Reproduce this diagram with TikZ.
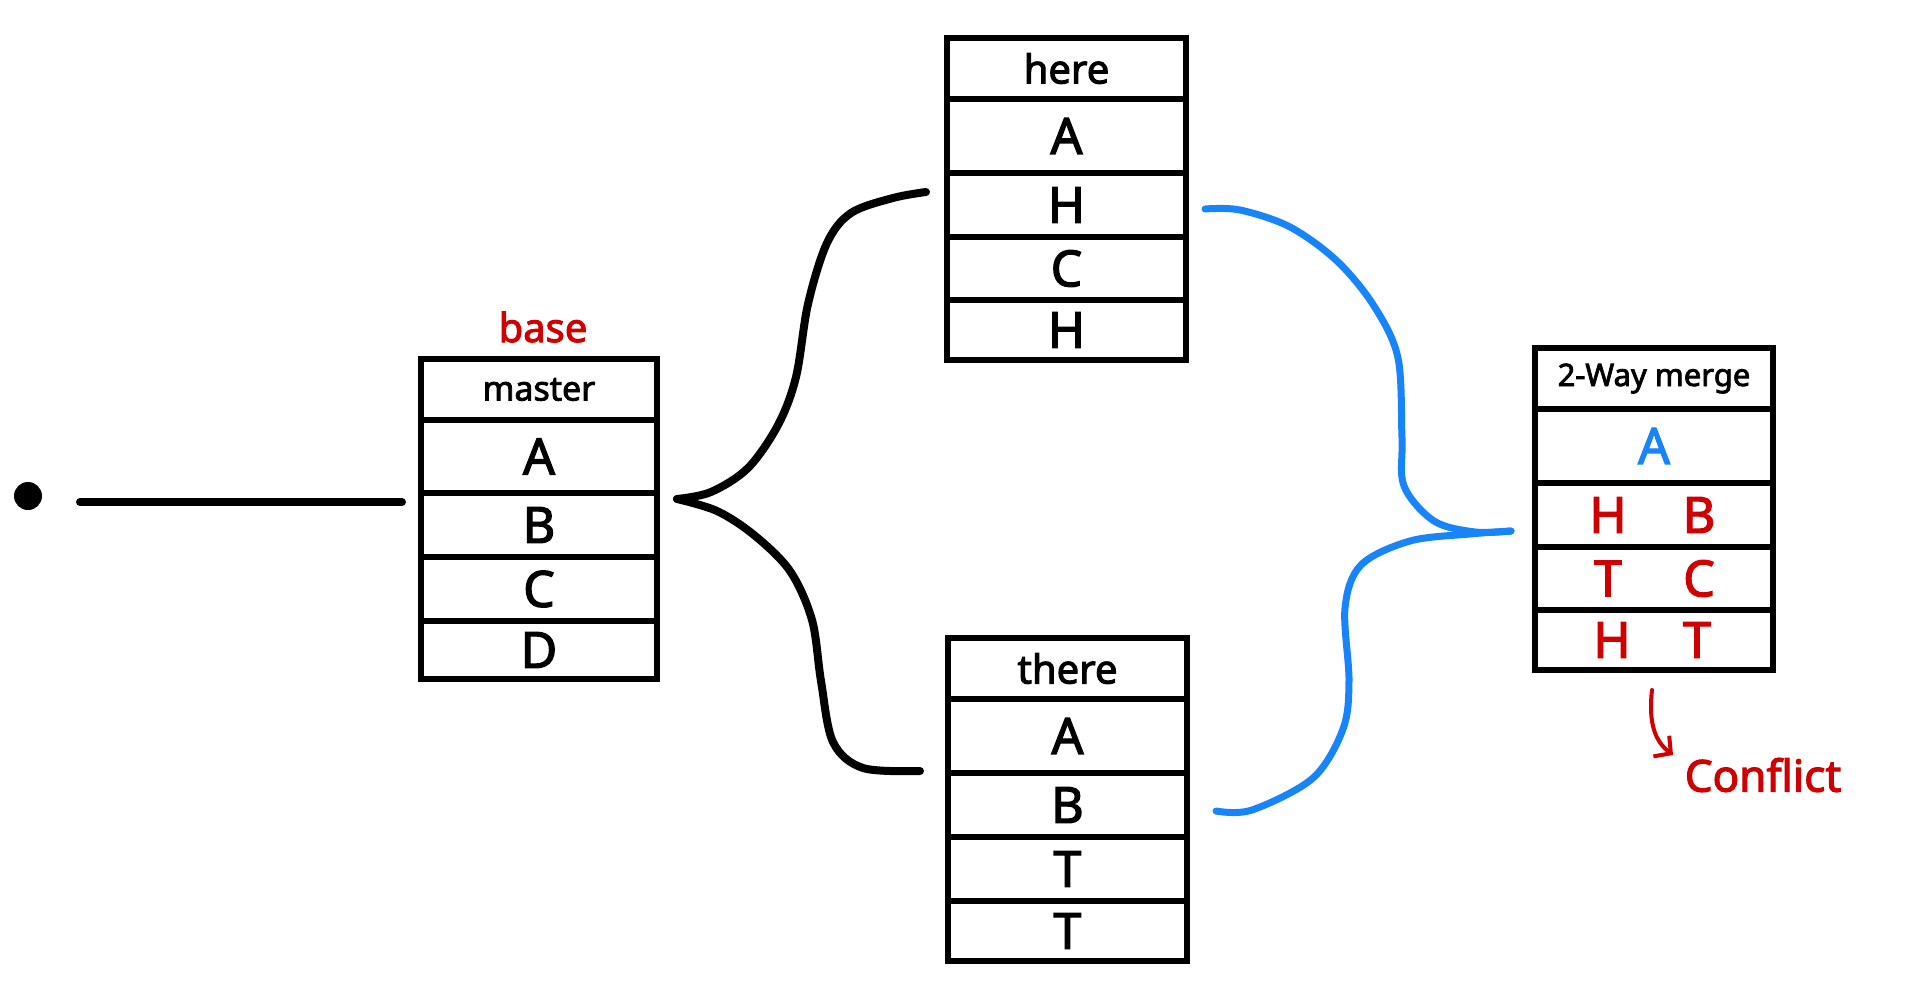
\documentclass[tikz,border=0pt]{standalone}
\usepackage{fontspec}
\setmainfont{Noto Sans}[AutoFakeBold=2.5]
\usetikzlibrary{arrows.meta,calc}
\definecolor{hred}{RGB}{208,0,0}
\definecolor{hblue}{RGB}{24,132,250}
\begin{document}
\begin{tikzpicture}[x=1pt,y=-1pt,
  cellbox/.style={draw=black, line width=5.5pt, rectangle, inner sep=0pt, outer sep=0pt, font=\fontsize{50}{50}\selectfont\bfseries},
  hdr/.style={cellbox, font=\fontsize{40}{40}\selectfont\bfseries},
  conn/.style={line width=8pt, line cap=round, line join=round},
  bconn/.style={conn, draw=hblue, line width=7pt},
  lett/.style={inner sep=0pt, font=\fontsize{50}{50}\selectfont\bfseries}]
\useasboundingbox[fill=white] (0,0) rectangle (1906,1000);

% master box
\node[hdr, minimum width=236, minimum height=61, font=\fontsize{34}{34}\selectfont\bfseries] (m0) at (539,389.5) {master};
\node[cellbox, minimum width=236, minimum height=73] (m1) at (539,456.5) {A};
\node[cellbox, minimum width=236, minimum height=64] (m2) at (539,525) {B};
\node[cellbox, minimum width=236, minimum height=64] (m3) at (539,589) {C};
\node[cellbox, minimum width=236, minimum height=58] (m4) at (539,650) {D};
\node[text=hred, font=\fontsize{40}{40}\selectfont\bfseries, inner sep=0pt] (base) at (543,327) {base};

% here box
\node[hdr, minimum width=239, minimum height=61, font=\fontsize{40}{40}\selectfont\bfseries] (h0) at (1066.5,68.5) {here};
\node[cellbox, minimum width=239, minimum height=74] (h1) at (1066.5,136) {A};
\node[cellbox, minimum width=239, minimum height=64] (h2) at (1066.5,205) {H};
\node[cellbox, minimum width=239, minimum height=63] (h3) at (1066.5,268.5) {C};
\node[cellbox, minimum width=239, minimum height=60] (h4) at (1066.5,330) {H};

% there box
\node[hdr, minimum width=239, minimum height=61, font=\fontsize{40}{40}\selectfont\bfseries] (t0) at (1067.5,668.5) {there};
\node[cellbox, minimum width=239, minimum height=74] (t1) at (1067.5,736) {A};
\node[cellbox, minimum width=239, minimum height=64] (t2) at (1067.5,805) {B};
\node[cellbox, minimum width=239, minimum height=64] (t3) at (1067.5,869) {T};
\node[cellbox, minimum width=239, minimum height=60] (t4) at (1067.5,931) {T};

% merge box
\node[hdr, minimum width=238, minimum height=61, font=\fontsize{31}{31}\selectfont\bfseries] (g0) at (1654,378.5) {2-Way merge};
\node[cellbox, minimum width=238, minimum height=74, text=hblue] (g1) at (1654,446) {A};
\node[cellbox, minimum width=238, minimum height=64] (g2) at (1654,515) {};
\node[cellbox, minimum width=238, minimum height=63] (g3) at (1654,578.5) {};
\node[cellbox, minimum width=238, minimum height=60] (g4) at (1654,640) {};
\node[lett, text=hred] (g2a) at (1608,515) {H};
\node[lett, text=hred] (g2b) at (1699,515) {B};
\node[lett, text=hred] (g3a) at (1608,578.5) {T};
\node[lett, text=hred] (g3b) at (1699,578.5) {C};
\node[lett, text=hred] (g4a) at (1612,640) {H};
\node[lett, text=hred] (g4b) at (1697,640) {T};

% conflict
\node[text=hred, font=\fontsize{44}{44}\selectfont\bfseries, inner sep=0pt] (conf) at (1763,775) {Conflict};
\coordinate (cA) at (1652,690);
\coordinate (cB) at (1673,755);
\draw[hred, line width=4pt, line cap=round, line join=round, -{Straight Barb[length=12pt, width=26pt, line width=4pt]}]
  (cA) .. controls (1648,725) and (1656,742) .. (cB);

% left dot and line
\node[circle, fill=black, minimum size=28pt, inner sep=0pt] (dot) at (28,496) {};
\coordinate (lA) at (80,502);
\coordinate (lB) at (402,502);
\draw[conn] (lA) -- (lB);

% black branches
\coordinate (fork) at (677,499);
\coordinate (hereIn) at (926,192);
\coordinate (thereIn) at (920,771);
\draw[conn] plot[smooth, tension=0.55] coordinates {(fork) (711,492) (748,468) (778,425) (796,377) (808,304) (827,243) (851,213) (893,198) (hereIn)};
\draw[conn] plot[smooth, tension=0.55] coordinates {(fork) (717,511) (754,535) (790,571) (812,620) (821,681) (833,742) (863,768) (thereIn)};

% blue merges
\coordinate (hereOut) at (1205,209);
\coordinate (thereOut) at (1216,811);
\coordinate (mergeIn) at (1511,531);
\draw[bconn] plot[smooth, tension=0.55] coordinates {(hereOut) (1240,210) (1290,227) (1337,261) (1374,306) (1398,358) (1402,438) (1404,486) (1434,521) (1475,532) (mergeIn)};
\draw[bconn] plot[smooth, tension=0.55] coordinates {(thereOut) (1252,810) (1313,778) (1343,729) (1349,681) (1345,608) (1361,565) (1410,541) (1470,534) (mergeIn)};
\end{tikzpicture}
\end{document}
